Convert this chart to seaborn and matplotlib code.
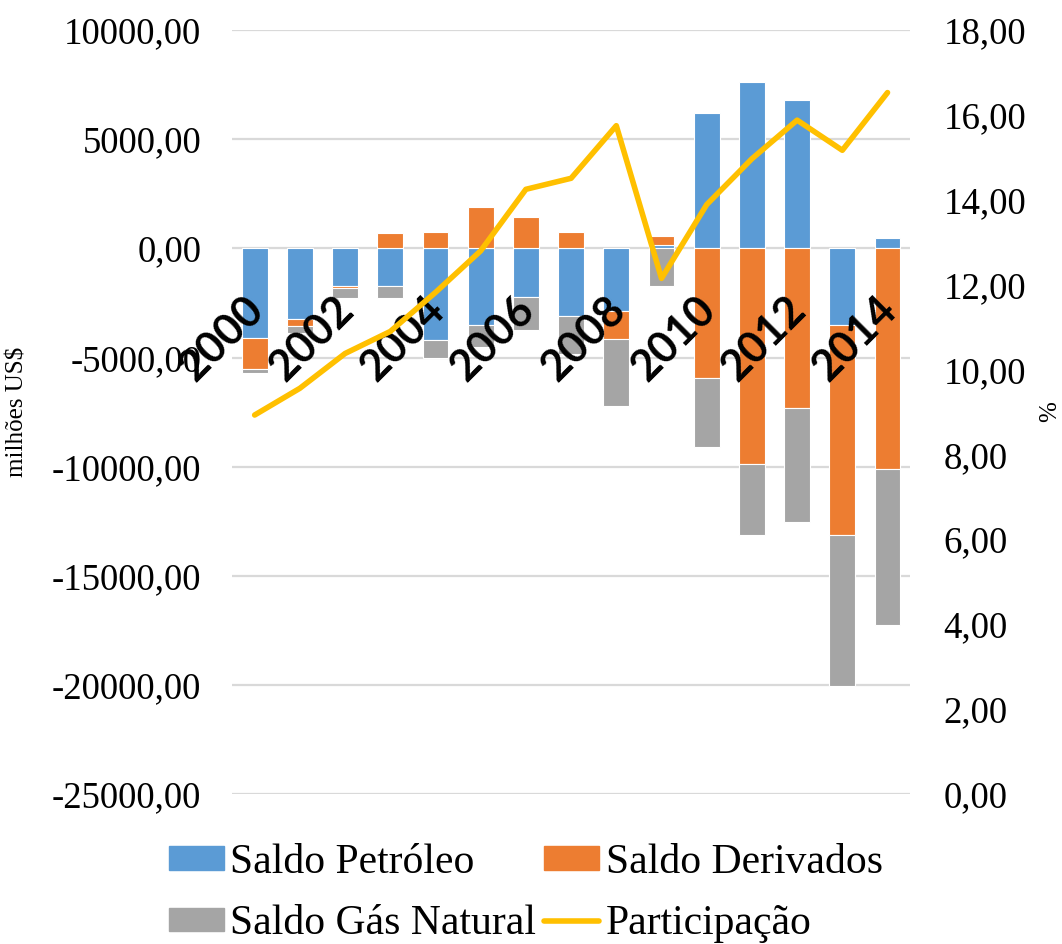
import numpy as np
import matplotlib
matplotlib.use("Agg")
import matplotlib.pyplot as plt
import matplotlib.patches as mpatches
import matplotlib.transforms as mtransforms
from matplotlib.lines import Line2D
from matplotlib.ticker import FuncFormatter
import seaborn as sns

# data (milhões US$ and %)
years = [str(y) for y in range(2000, 2015)]
petroleo = [-4120, -3240, -1700, -1700, -4180, -3490, -2210, -3080, -2890,
            150, 6200, 7620, 6820, -3490, 460]
derivados = [-1420, -320, -120, 700, 770, 1920, 1430, 740, -1280,
             400, -5920, -9880, -7300, -9650, -10130]
gas_natural = [-150, -330, -430, -570, -830, -1020, -1550, -1760, -3040,
               -1740, -3170, -3270, -5250, -6920, -7130]
participacao = [8.93, 9.56, 10.38, 10.90, 11.82, 12.80, 14.25, 14.51, 15.75,
                12.15, 13.89, 14.97, 15.88, 15.17, 16.53]

series = [("Saldo Petróleo", petroleo, "#5B9BD5"),
          ("Saldo Derivados", derivados, "#ED7D31"),
          ("Saldo Gás Natural", gas_natural, "#A5A5A5")]

sns.set_style("white")
plt.rcParams["font.family"] = ["Liberation Serif", "DejaVu Serif"]
plt.rcParams["text.color"] = "black"
plt.rcParams["xtick.color"] = "black"
plt.rcParams["ytick.color"] = "black"
plt.rcParams["axes.labelcolor"] = "black"

fig, ax = plt.subplots(figsize=(10.62, 9.44), dpi=100)
fig.subplots_adjust(left=0.2185, right=0.857, top=0.968, bottom=0.159)

# Excel-style stacking: positives pile up, negatives pile down
pos_base = np.zeros(len(years))
neg_base = np.zeros(len(years))
for name, vals, color in series:
    vals = np.array(vals, dtype=float)
    bottom = np.where(vals >= 0, pos_base, neg_base)
    sns.barplot(x=years, y=vals, bottom=bottom, color=color, saturation=1,
                width=0.57, edgecolor="white", linewidth=0.8, ax=ax, zorder=2)
    pos_base += np.clip(vals, 0, None)
    neg_base += np.clip(vals, None, 0)

ax.set_ylim(-25000, 10000)
ax.set_yticks(np.arange(-25000, 10001, 5000))
ax.yaxis.set_major_formatter(FuncFormatter(lambda v, _: f"{v:.2f}".replace(".", ",")))
ax.grid(axis="y", color="#d9d9d9", linewidth=1.6)
ax.set_axisbelow(True)
for s in ax.spines.values():
    s.set_visible(False)
ax.spines["bottom"].set_position(("data", 0))
ax.tick_params(axis="y", length=0, pad=22, labelsize=26.5)
ax.set_ylabel("milhões US$", fontsize=18)
ax.yaxis.set_label_coords(-0.30, 0.50)

ax.set_xticks(np.arange(0, len(years), 2))
ax.set_xticklabels(years[::2], rotation=45, ha="right", rotation_mode="anchor",
                   fontsize=31, fontweight="bold", family=["Lato", "DejaVu Sans"])
ax.tick_params(axis="x", length=0, pad=29)
ax.set_xlabel("")
# year labels sit on top of the bars, as in the original
ax.xaxis.set_zorder(5)
shift = mtransforms.ScaledTranslation(-0.12, 0, fig.dpi_scale_trans)
for lab in ax.get_xticklabels():
    lab.set_transform(lab.get_transform() + shift)

ax2 = ax.twinx()
sns.lineplot(x=np.arange(len(years)), y=participacao, color="#FFC000",
             linewidth=4, ax=ax2)
ax2.set_ylim(0, 18)
ax2.set_yticks(np.arange(0, 18.1, 2))
ax2.yaxis.set_major_formatter(FuncFormatter(lambda v, _: f"{v:.2f}".replace(".", ",")))
ax2.tick_params(axis="y", length=0, pad=24, labelsize=26.5)
for s in ax2.spines.values():
    s.set_visible(False)
ax2.set_ylabel("%", fontsize=18)
ax2.yaxis.set_label_coords(1.19, 0.50)
ax.set_xlim(-0.5, len(years) - 0.5)

handles = [mpatches.Patch(color=series[0][2], label=series[0][0]),
           mpatches.Patch(color=series[2][2], label=series[2][0]),
           mpatches.Patch(color=series[1][2], label=series[1][0]),
           Line2D([], [], color="#FFC000", linewidth=4, label="Participação")]
fig.legend(handles=handles, loc="lower center", bbox_to_anchor=(0.495, -0.039),
           ncol=2, frameon=False, fontsize=30, handlelength=1.32,
           handleheight=0.5, handletextpad=0.15, columnspacing=0.2,
           labelspacing=0.55)

fig.savefig("out.png", dpi=100)
